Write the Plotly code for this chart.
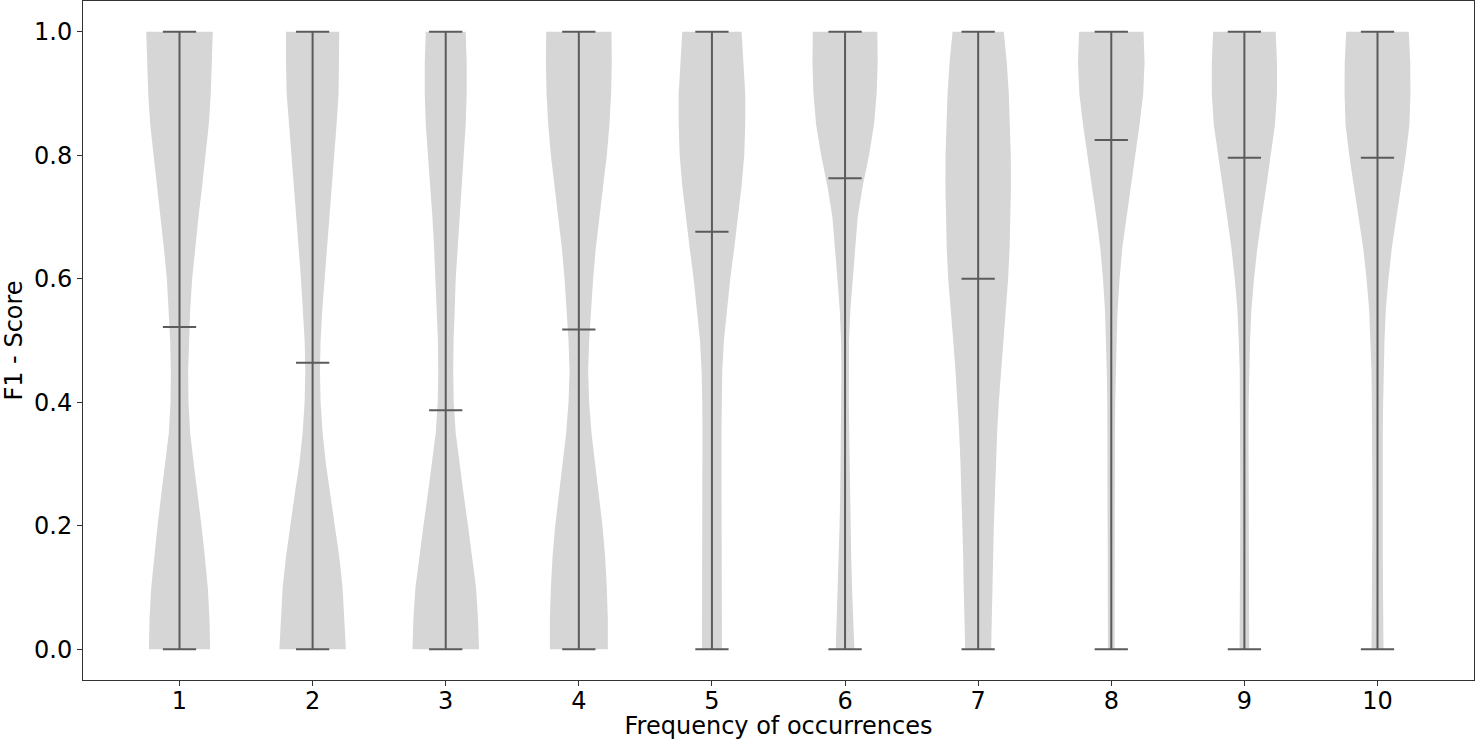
import plotly.graph_objects as go

# ---- data ----
categories = [1, 2, 3, 4, 5, 6, 7, 8, 9, 10]
means = [0.522, 0.464, 0.387, 0.518, 0.676, 0.763, 0.600, 0.825, 0.796, 0.796]
mins = [0, 0, 0, 0, 0, 0, 0, 0, 0, 0]
maxs = [1, 1, 1, 1, 1, 1, 1, 1, 1, 1]

# F1 values at which the (normalised) density of each violin was read
score_grid = [0.0, 0.05, 0.1, 0.15, 0.2, 0.25, 0.3, 0.35, 0.4, 0.45, 0.5,
              0.55, 0.6, 0.65, 0.7, 0.75, 0.8, 0.85, 0.9, 0.95, 1.0]

density_1 = [0.92, 0.90, 0.85, 0.76, 0.66, 0.55, 0.43, 0.32, 0.27, 0.26, 0.28,
             0.32, 0.38, 0.47, 0.57, 0.68, 0.79, 0.88, 0.94, 0.98, 1.00]
density_2 = [1.00, 0.96, 0.90, 0.80, 0.68, 0.54, 0.40, 0.30, 0.24, 0.22, 0.24,
             0.29, 0.35, 0.42, 0.49, 0.57, 0.65, 0.72, 0.78, 0.80, 0.80]
density_3 = [1.00, 0.97, 0.91, 0.80, 0.67, 0.54, 0.41, 0.30, 0.24, 0.225, 0.235,
             0.27, 0.30, 0.35, 0.40, 0.47, 0.54, 0.60, 0.63, 0.63, 0.60]
density_4 = [0.87, 0.87, 0.84, 0.79, 0.71, 0.60, 0.48, 0.38, 0.31, 0.28, 0.31,
             0.36, 0.43, 0.51, 0.62, 0.73, 0.84, 0.92, 0.97, 0.99, 0.98]
density_5 = [0.30, 0.295, 0.29, 0.29, 0.285, 0.285, 0.285, 0.285, 0.29, 0.31, 0.36,
             0.45, 0.55, 0.67, 0.79, 0.89, 0.97, 1.00, 1.00, 0.95, 0.89]
density_6 = [0.28, 0.25, 0.21, 0.185, 0.165, 0.145, 0.135, 0.125, 0.115, 0.11, 0.12,
             0.16, 0.23, 0.30, 0.38, 0.53, 0.72, 0.87, 0.95, 0.98, 0.97]
density_7 = [0.39, 0.42, 0.435, 0.45, 0.47, 0.495, 0.53, 0.57, 0.62, 0.68, 0.75,
             0.83, 0.90, 0.945, 0.97, 0.985, 0.98, 0.96, 0.92, 0.86, 0.77]
density_8 = [0.10, 0.10, 0.10, 0.10, 0.10, 0.10, 0.105, 0.11, 0.12, 0.135, 0.16,
             0.19, 0.25, 0.33, 0.45, 0.59, 0.72, 0.85, 0.96, 1.00, 0.97]
density_9 = [0.145, 0.135, 0.13, 0.125, 0.125, 0.125, 0.125, 0.125, 0.13, 0.14, 0.17,
             0.21, 0.29, 0.39, 0.52, 0.66, 0.80, 0.92, 0.98, 0.98, 0.94]
density_10 = [0.18, 0.17, 0.165, 0.16, 0.155, 0.155, 0.155, 0.16, 0.17, 0.18, 0.21,
              0.25, 0.33, 0.43, 0.57, 0.71, 0.85, 0.96, 0.99, 0.985, 0.94]

densities = [density_1, density_2, density_3, density_4, density_5,
             density_6, density_7, density_8, density_9, density_10]

# ---- styling ----
VIOLIN_WIDTH = 0.5
CAP_WIDTH = 0.25
FILL = "#D6D6D6"
LINE = "#5B5B5B"
FONT = "DejaVu Sans"

fig = go.Figure()

for pos, dens in zip(categories, densities):
    half = [d * VIOLIN_WIDTH / 2 for d in dens]
    xs = [pos - h for h in half] + [pos + h for h in reversed(half)]
    ys = list(score_grid) + list(reversed(score_grid))
    fig.add_trace(go.Scatter(x=xs, y=ys, mode="lines", fill="toself",
                             fillcolor=FILL, line=dict(width=0, color=FILL),
                             hoverinfo="skip", showlegend=False))

for pos, mn, mx, mu in zip(categories, mins, maxs, means):
    fig.add_trace(go.Scatter(x=[pos, pos], y=[mn, mx], mode="lines",
                             line=dict(color=LINE, width=2), showlegend=False,
                             hoverinfo="skip"))
    for yv in (mn, mx, mu):
        fig.add_trace(go.Scatter(x=[pos - CAP_WIDTH / 2, pos + CAP_WIDTH / 2],
                                 y=[yv, yv], mode="lines",
                                 line=dict(color=LINE, width=2),
                                 showlegend=False, hoverinfo="skip"))

fig.update_layout(
    width=1475, height=740,
    margin=dict(l=83, r=1, t=1, b=60),
    paper_bgcolor="white", plot_bgcolor="white",
    font=dict(family=FONT, size=24, color="#000000"),
    showlegend=False,
)

fig.update_xaxes(
    range=[0.275, 10.725],
    tickmode="array", tickvals=categories,
    ticktext=[str(c) for c in categories],
    ticks="outside", ticklen=5, tickwidth=1, tickcolor="#333333",
    ticklabelstandoff=-6,
    showline=True, linecolor="#333333", linewidth=1, mirror=True,
    showgrid=False, zeroline=False,
    tickfont=dict(family=FONT, size=24, color="#000000"),
    title=dict(text="Frequency of occurrences", standoff=5,
               font=dict(family=FONT, size=24, color="#000000")),
)

fig.update_yaxes(
    range=[-0.05, 1.05],
    tickmode="array", tickvals=[0.0, 0.2, 0.4, 0.6, 0.8, 1.0],
    ticktext=["0.0", "0.2", "0.4", "0.6", "0.8", "1.0"],
    ticks="outside", ticklen=5, tickwidth=1, tickcolor="#333333",
    showline=True, linecolor="#333333", linewidth=1, mirror=True,
    showgrid=False, zeroline=False,
    tickfont=dict(family=FONT, size=24, color="#000000"),
    title=dict(text="F1 - Score", standoff=8,
               font=dict(family=FONT, size=24, color="#000000")),
)

fig.write_html("out.html", config={"displayModeBar": False},
               post_script="document.body.style.margin='0';")
